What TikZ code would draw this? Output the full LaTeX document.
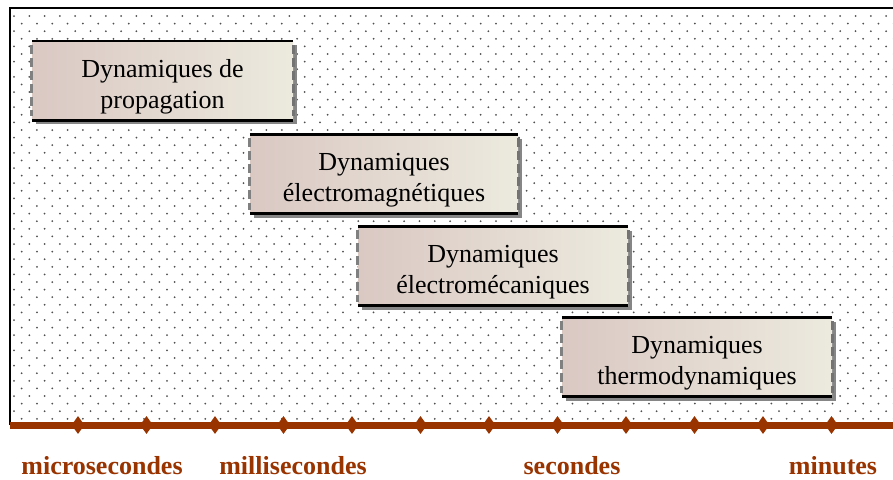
\documentclass[tikz,border=0pt]{standalone}
\usepackage{fontspec}
\setmainfont{Liberation Serif}
\usepackage{tikz}
\usetikzlibrary{shapes.geometric,shadows}
\definecolor{axisbrown}{RGB}{153,51,0}
\definecolor{boxleft}{RGB}{218,200,195}
\definecolor{boxright}{RGB}{236,234,222}
\definecolor{dotgray}{RGB}{80,80,80}
\tikzset{
	dynbox/.style={rectangle,minimum width=#1,minimum height=79pt,inner sep=0pt,
		left color=boxleft,right color=boxright,
		drop shadow={shadow xshift=4pt,shadow yshift=-4pt,fill=gray!95,opacity=1}},
	dynbox/.default=262pt,
	dyntext/.style={align=center,inner sep=0pt,font=\fontsize{26pt}{31pt}\selectfont},
	tick/.style={diamond,fill=axisbrown,inner sep=0pt,minimum width=13pt,minimum height=18pt},
	scalelabel/.style={text=axisbrown,font=\fontsize{26pt}{30pt}\selectfont\bfseries}
}
\begin{document}
\begin{tikzpicture}[x=1pt,y=-1pt]
			\useasboundingbox (0,0) rectangle (893,479);
			\coordinate (corner) at (10,8);
			\coordinate (axis_start) at (10,425);
			\coordinate (axis_end) at (893,425);
			\begin{scope}
				\clip (12,10) rectangle (893,421);
				\foreach \j in {0,...,54} {
					\pgfmathsetmacro{\yy}{16+7.6*\j}
					\pgfmathsetmacro{\xs}{mod(\j,2)==0 ? 14 : 6.35}
					\foreach \i in {0,...,58} {
						\fill[dotgray] (\xs+15.3*\i,\yy) circle (1pt);
					}
				}
			\end{scope}
			\draw[line width=1.6pt] (axis_start) -- (corner) -- (893,8);
			\draw[line width=7pt,axisbrown] (axis_start) -- (axis_end);
			\foreach \k in {0,...,11} {
				\node[tick] (t\k) at (78+68.5*\k,425) {};
			}
			\node[dynbox=261pt] (prop) at (162.5,80.5) {};
			\node[dynbox=268pt] (emag) at (384,174) {};
			\node[dynbox=270pt] (emec) at (493,266) {};
			\node[dynbox=270pt] (thermo) at (697,357) {};
			\foreach \b in {prop,emag,emec,thermo} {
				\draw[line width=2.6pt] (\b.north west) -- (\b.north east);
				\draw[line width=2.6pt] (\b.south west) -- (\b.south east);
				\draw[line width=3pt,gray,dash pattern=on 9pt off 4pt] ([yshift=-4pt]\b.north west) -- ([yshift=4pt]\b.south west);
				\draw[line width=3pt,gray!90!black,dash pattern=on 9pt off 4pt] ([yshift=-4pt]\b.north east) -- ([yshift=4pt]\b.south east);
			}
			\node[dyntext] (prop_txt) at ([yshift=-6pt]prop.center) {Dynamiques de\\propagation};
			\node[dyntext] (emag_txt) at ([yshift=-6pt]emag.center) {Dynamiques\\électromagnétiques};
			\node[dyntext] (emec_txt) at ([yshift=-6pt]emec.center) {Dynamiques\\électromécaniques};
			\node[dyntext] (thermo_txt) at ([yshift=-6pt]thermo.center) {Dynamiques\\thermodynamiques};
			\node[scalelabel] (micro) at (102,466) {microsecondes};
			\node[scalelabel] (milli) at (293,466) {millisecondes};
			\node[scalelabel] (sec) at (572,466) {secondes};
			\node[scalelabel] (minu) at (833,466) {minutes};
		\end{tikzpicture}
\end{document}
